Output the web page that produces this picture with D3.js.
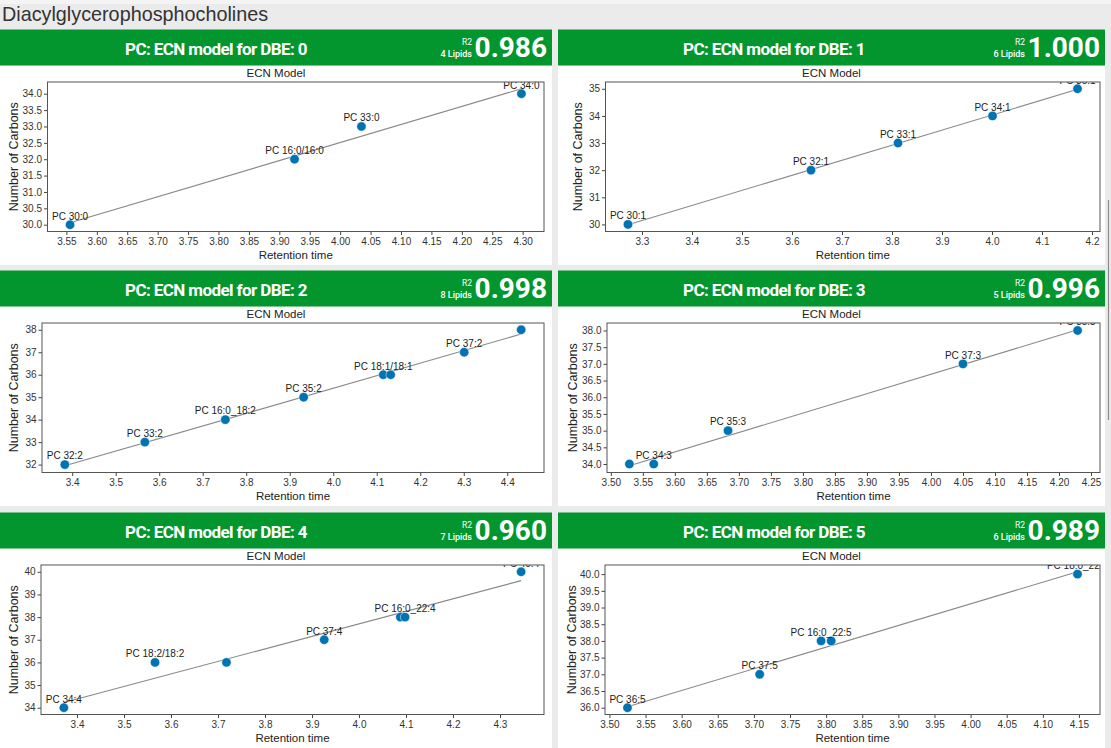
<!DOCTYPE html>
<html><head><meta charset="utf-8">
<script src="https://cdn.jsdelivr.net/npm/d3@7"></script>
<style>
html,body{margin:0;padding:0;background:#ebebeb;}
svg{display:block;}
</style></head><body>
<svg id="c" width="1111" height="748"></svg>
<script>
const pageTitle = "Diacylglycerophosphocholines";
const panelTitles = ["PC: ECN model for DBE: 0","PC: ECN model for DBE: 1","PC: ECN model for DBE: 2","PC: ECN model for DBE: 3","PC: ECN model for DBE: 4","PC: ECN model for DBE: 5"];
const r2Values = ["0.986","1.000","0.998","0.996","0.960","0.989"];
const lipidCounts = ["4 Lipids","6 Lipids","8 Lipids","5 Lipids","7 Lipids","6 Lipids"];

// DBE 0
const rt0 = [3.556, 3.925, 4.035, 4.298];
const c0 = [30, 32, 33, 34];
const lab0 = ["PC 30:0", "PC 16:0/16:0", "PC 33:0", "PC 34:0"];
const fitX0 = [3.556, 4.298], fitY0 = [30.06, 34.15];
const xt0 = [3.55,3.60,3.65,3.70,3.75,3.80,3.85,3.90,3.95,4.00,4.05,4.10,4.15,4.20,4.25,4.30];
const yt0 = [30.0,30.5,31.0,31.5,32.0,32.5,33.0,33.5,34.0];
// DBE 1
const rt1 = [3.272, 3.638, 3.812, 4.001, 4.171];
const c1 = [30, 32, 33, 34, 35];
const lab1 = ["PC 30:1", "PC 32:1", "PC 33:1", "PC 34:1", "PC 35:1"];
const fitX1 = [3.272, 4.171], fitY1 = [29.99, 34.98];
const xt1 = [3.3,3.4,3.5,3.6,3.7,3.8,3.9,4.0,4.1,4.2];
const yt1 = [30,31,32,33,34,35];
// DBE 2
const rt2 = [3.383, 3.567, 3.752, 3.932, 4.115, 4.132, 4.301, 4.432];
const c2 = [32, 33, 34, 35, 36, 36, 37, 38];
const lab2 = ["PC 32:2", "PC 33:2", "PC 16:0_18:2", "PC 35:2", "PC 18:1/18:1", "", "PC 37:2", ""];
const fitX2 = [3.383, 4.432], fitY2 = [31.95, 37.81];
const xt2 = [3.4,3.5,3.6,3.7,3.8,3.9,4.0,4.1,4.2,4.3,4.4];
const yt2 = [32,33,34,35,36,37,38];
// DBE 3
const rt3 = [3.529, 3.567, 3.683, 4.050, 4.229];
const c3 = [34, 34, 35, 37, 38];
const lab3 = ["", "PC 34:3", "PC 35:3", "PC 37:3", "PC 38:3"];
const fitX3 = [3.529, 4.229], fitY3 = [33.95, 38.02];
const xt3 = [3.50,3.55,3.60,3.65,3.70,3.75,3.80,3.85,3.90,3.95,4.00,4.05,4.10,4.15,4.20,4.25];
const yt3 = [34.0,34.5,35.0,35.5,36.0,36.5,37.0,37.5,38.0];
// DBE 4
const rt4 = [3.372, 3.566, 3.718, 3.926, 4.088, 4.098, 4.345];
const c4 = [34, 36, 36, 37, 38, 38, 40];
const lab4 = ["PC 34:4", "PC 18:2/18:2", "", "PC 37:4", "", "PC 16:0_22:4", "PC 40:4"];
const fitX4 = [3.372, 4.345], fitY4 = [34.23, 39.61];
const xt4 = [3.4,3.5,3.6,3.7,3.8,3.9,4.0,4.1,4.2,4.3];
const yt4 = [34,35,36,37,38,39,40];
// DBE 5
const rt5 = [3.525, 3.708, 3.793, 3.807, 4.148];
const c5 = [36, 37, 38, 38, 40];
const lab5 = ["PC 36:5", "PC 37:5", "PC 16:0_22:5", "", "PC 18:0_22:6"];
const fitX5 = [3.525, 4.148], fitY5 = [36.03, 40.07];
const xt5 = [3.50,3.55,3.60,3.65,3.70,3.75,3.80,3.85,3.90,3.95,4.00,4.05,4.10,4.15];
const yt5 = [36.0,36.5,37.0,37.5,38.0,38.5,39.0,39.5,40.0];

const panels = [
  {rt: rt0, c: c0, lab: lab0, fx: fitX0, fy: fitY0, xt: xt0, yt: yt0, xf: ".2f", yf: ".1f"},
  {rt: rt1, c: c1, lab: lab1, fx: fitX1, fy: fitY1, xt: xt1, yt: yt1, xf: ".1f", yf: "d"},
  {rt: rt2, c: c2, lab: lab2, fx: fitX2, fy: fitY2, xt: xt2, yt: yt2, xf: ".1f", yf: "d"},
  {rt: rt3, c: c3, lab: lab3, fx: fitX3, fy: fitY3, xt: xt3, yt: yt3, xf: ".2f", yf: ".1f"},
  {rt: rt4, c: c4, lab: lab4, fx: fitX4, fy: fitY4, xt: xt4, yt: yt4, xf: ".1f", yf: "d"},
  {rt: rt5, c: c5, lab: lab5, fx: fitX5, fy: fitY5, xt: xt5, yt: yt5, xf: ".2f", yf: ".1f"}
];

// layout
const W = 1111, H = 748;
const colX = [0, 558], colW = [552, 547];
const rowY = [29.5, 270.5, 512.5];
const plotLeft = [47.5, 605.5, 42, 607, 41, 605];
const plotRight = [544, 1100, 544, 1100, 544, 1100];
const ylabelX = [14, 578, 14, 573, 14, 572];
const green = "#03962f";
const dot = "#0173b2";
const axisFont = "'Liberation Sans', Arial, Helvetica, sans-serif";

const svg = d3.select("#c");
svg.append("rect").attr("width", W).attr("height", H).attr("fill", "#ebebeb");
svg.append("rect").attr("x", 0).attr("y", 0).attr("width", W).attr("height", 4).attr("fill", "#f4f4f4");
svg.append("text").attr("x", 2).attr("y", 21)
  .attr("font-family", axisFont).attr("font-size", 19.8).attr("fill", "#333")
  .text(pageTitle);
svg.append("line").attr("x1", 1108.5).attr("x2", 1108.5).attr("y1", 200).attr("y2", 420)
  .attr("stroke", "#8a8a8a").attr("stroke-width", 1.2);

function extentWithMargin(vals) {
  const [a, b] = d3.extent(vals);
  const m = (b - a) * 0.05;
  return [a - m, b + m];
}

panels.forEach((p, i) => {
  const col = i % 2, row = Math.floor(i / 2);
  const px = colX[col], pw = colW[col], py = rowY[row];
  const g = svg.append("g");
  g.append("rect").attr("x", px).attr("y", py + 36).attr("width", pw).attr("height", 199.5).attr("fill", "#fff");
  g.append("rect").attr("x", px).attr("y", py).attr("width", pw).attr("height", 36).attr("fill", green);
  g.append("text").attr("x", px + 216).attr("y", py + 25).attr("text-anchor", "middle")
    .attr("font-family", "Roboto, 'Open Sans', sans-serif").attr("font-weight", 700)
    .attr("font-size", 17).attr("letter-spacing", -0.6).attr("fill", "#fff")
    .text(panelTitles[i]);
  g.append("text").attr("x", px + pw - 5).attr("y", py + 27.5).attr("text-anchor", "end")
    .attr("font-family", "Roboto, sans-serif").attr("font-weight", 700)
    .attr("font-size", 28).attr("fill", "#fff").text(r2Values[i]);
  g.append("text").attr("x", px + pw - 80).attr("y", py + 15.5).attr("text-anchor", "end")
    .attr("font-family", "Roboto, sans-serif").attr("font-size", 8.5).attr("fill", "#fff").text("R2");
  g.append("text").attr("x", px + pw - 80).attr("y", py + 27).attr("text-anchor", "end")
    .attr("font-family", "Roboto, sans-serif").attr("font-weight", 500).attr("font-size", 9).attr("fill", "#fff").text(lipidCounts[i]);

  const top = py + 52.5, bottom = py + 202;
  const left = plotLeft[i], right = plotRight[i];
  const x = d3.scaleLinear().domain(extentWithMargin(p.rt.concat(p.fx))).range([left, right]);
  const y = d3.scaleLinear().domain(extentWithMargin(p.c.concat(p.fy))).range([bottom, top]);

  const clipId = "clip" + i;
  svg.append("clipPath").attr("id", clipId).append("rect")
    .attr("x", left).attr("y", top).attr("width", right - left).attr("height", bottom - top);

  g.append("text").attr("x", px + pw / 2).attr("y", top - 5.5).attr("text-anchor", "middle")
    .attr("font-family", axisFont).attr("font-size", 11.5).attr("fill", "#222").text("ECN Model");

  const xAxis = g.append("g").attr("transform", `translate(0,${bottom})`)
    .call(d3.axisBottom(x).tickValues(p.xt).tickFormat(d3.format(p.xf)).tickSize(3.5).tickSizeOuter(0));
  const yAxis = g.append("g").attr("transform", `translate(${left},0)`)
    .call(d3.axisLeft(y).tickValues(p.yt).tickFormat(d3.format(p.yf)).tickSize(3.5).tickSizeOuter(0));
  [xAxis, yAxis].forEach(a => {
    a.select(".domain").remove();
    a.selectAll("line").attr("stroke", "#444");
    a.selectAll("text").attr("font-family", axisFont).attr("font-size", 10).attr("fill", "#333");
  });
  xAxis.selectAll("text").attr("dy", "0.71em").attr("y", 6);
  yAxis.selectAll("text").attr("x", -5.5);

  g.append("text").attr("x", (left + right) / 2).attr("y", bottom + 27).attr("text-anchor", "middle")
    .attr("font-family", axisFont).attr("font-size", 11.5).attr("fill", "#222").text("Retention time");
  g.append("text").attr("transform", `translate(${ylabelX[i]},${(top + bottom) / 2}) rotate(-90)`)
    .attr("dy", "0.35em").attr("text-anchor", "middle")
    .attr("font-family", axisFont).attr("font-size", 12.5).attr("fill", "#222").text("Number of Carbons");

  const inner = g.append("g").attr("clip-path", `url(#${clipId})`);
  inner.append("line")
    .attr("x1", x(p.fx[0])).attr("y1", y(p.fy[0])).attr("x2", x(p.fx[1])).attr("y2", y(p.fy[1]))
    .attr("stroke", "#888").attr("stroke-width", 1.1);
  const pts = p.rt.map((v, k) => ({rt: v, c: p.c[k], lab: p.lab[k]}));
  inner.selectAll("circle").data(pts).join("circle")
    .attr("cx", d => x(d.rt)).attr("cy", d => y(d.c)).attr("r", 4.7)
    .attr("fill", dot).attr("stroke", "#fff").attr("stroke-width", 0.5);
  inner.selectAll("text.lab").data(pts.filter(d => d.lab)).join("text").attr("class", "lab")
    .attr("x", d => x(d.rt)).attr("y", d => y(d.c) - 5.2).attr("text-anchor", "middle")
    .attr("font-family", axisFont).attr("font-size", 10).attr("fill", "#222").text(d => d.lab);

  g.append("rect").attr("x", left).attr("y", top).attr("width", right - left).attr("height", bottom - top)
    .attr("fill", "none").attr("stroke", "#555").attr("stroke-width", 1);
});
</script>
</body></html>
